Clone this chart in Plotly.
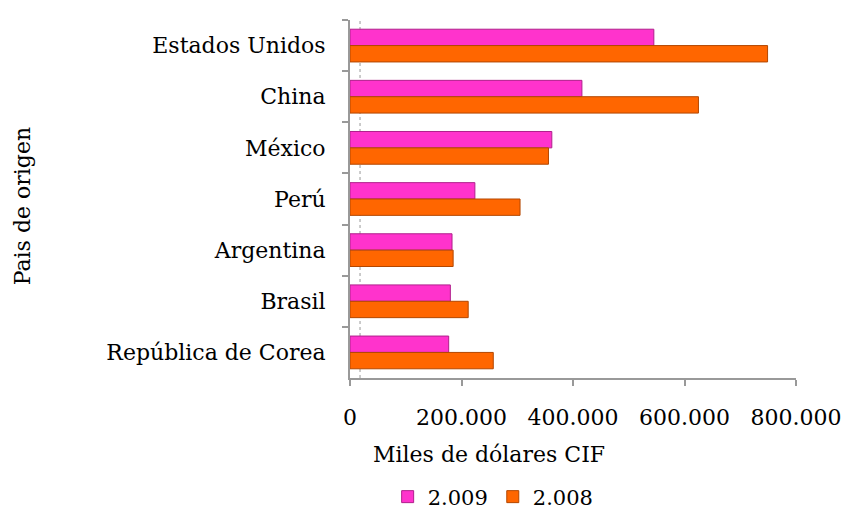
import plotly.graph_objects as go

paises = ["Estados Unidos", "China", "México", "Perú", "Argentina", "Brasil", "República de Corea"]
v2009 = [545000, 416000, 362000, 224000, 183000, 180000, 177000]
v2008 = [749000, 625000, 356000, 305000, 185000, 212000, 257000]
tick_vals = [0, 200000, 400000, 600000, 800000]
tick_text = ["0", "200.000", "400.000", "600.000", "800.000"]

FONT = "DejaVu Serif"
FS = 22

fig = go.Figure()
fig.add_trace(go.Bar(y=paises, x=v2009, orientation="h", name="2.009",
                     marker=dict(color="#FF33CC", line=dict(color="#B0208C", width=1))))
fig.add_trace(go.Bar(y=paises, x=v2008, orientation="h", name="2.008",
                     marker=dict(color="#FF6600", line=dict(color="#B34700", width=1))))

fig.update_layout(
    width=843, height=515,
    margin=dict(l=350, r=47, t=20, b=137),
    paper_bgcolor="white", plot_bgcolor="white",
    barmode="group", bargap=0.36, bargroupgap=0,
    font=dict(family=FONT, size=FS, color="#000000"),
    showlegend=True,
    legend=dict(orientation="h", xref="container", yref="container", x=0.585, y=0.035,
                xanchor="center", yanchor="middle", tracegroupgap=0,
                font=dict(family=FONT, size=21), itemwidth=30, traceorder="normal"),
    xaxis=dict(range=[0, 800000], tickvals=tick_vals, ticktext=tick_text, automargin=False,
               showgrid=False, zeroline=False, showline=True, linecolor="#999999", linewidth=2,
               ticks="outside", ticklen=6, tickwidth=2, tickcolor="#999999",
               ticklabelstandoff=13, tickfont=dict(family=FONT, size=FS)),
    yaxis=dict(autorange="reversed", showgrid=False, showline=True, linecolor="#999999", linewidth=2,
               ticks="outside", ticklen=6, tickwidth=2, tickcolor="#999999", tickson="boundaries",
               automargin=False, ticklabelstandoff=18, tickfont=dict(family=FONT, size=FS)),
    annotations=[
        dict(text="Miles de dólares CIF", xref="paper", yref="paper", x=0.312, y=-0.215,
             showarrow=False, xanchor="center", yanchor="middle", font=dict(family=FONT, size=FS)),
        dict(text="Pais de origen", xref="paper", yref="paper", x=-0.735, y=0.48, textangle=-90,
             showarrow=False, xanchor="center", yanchor="middle", font=dict(family=FONT, size=FS)),
    ],
    shapes=[dict(type="line", xref="x", yref="paper", x0=18000, x1=18000, y0=0, y1=1,
                 line=dict(color="#BBBBBB", width=1.5, dash="dot"), layer="below")],
)

fig.write_html("out.html", config={"displayModeBar": False},
               post_script="document.body.style.margin='0';")
